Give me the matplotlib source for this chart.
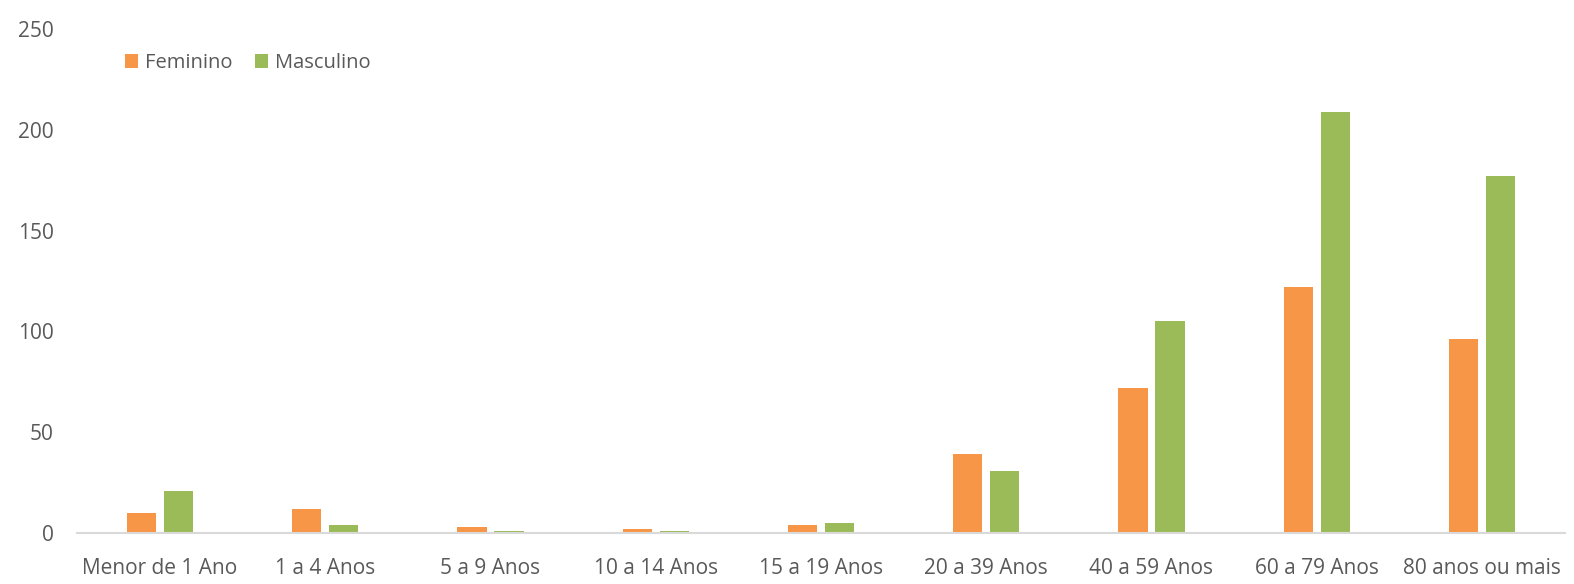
import numpy as np
import matplotlib
matplotlib.use("Agg")
import matplotlib.pyplot as plt

plt.rcParams['font.family'] = ['Open Sans', 'DejaVu Sans']

faixas = ["Menor de 1 Ano", "1 a 4 Anos", "5 a 9 Anos", "10 a 14 Anos", "15 a 19 Anos",
          "20 a 39 Anos", "40 a 59 Anos", "60 a 79 Anos", "80 anos ou mais"]
feminino = [10, 12, 3, 2, 4, 39, 72, 122, 96]
masculino = [21, 4, 1, 1, 5, 31, 105, 209, 177]
yticks = [0, 50, 100, 150, 200, 250]

cor_f = '#F79646'
cor_m = '#9BBB59'
texto = '#595959'

fig = plt.figure(figsize=(15.74, 5.84), dpi=100)
ax = fig.add_axes([0.0492, 0.0873, 0.9448, 0.8630])

x = np.arange(len(faixas))
w = 0.177
off = w / 2 + 0.023
ax.bar(x - off, feminino, w, color=cor_f, label="Feminino")
ax.bar(x + off, masculino, w, color=cor_m, label="Masculino")

ax.set_xlim(-0.5, len(faixas) - 0.5)
ax.set_ylim(0, 250)
ax.set_yticks(yticks)
ax.set_xticks(x)
ax.set_xticklabels(faixas)

for s in ['top', 'right', 'left']:
    ax.spines[s].set_visible(False)
ax.spines['bottom'].set_color('#D9D9D9')
ax.spines['bottom'].set_linewidth(1.5)

ax.tick_params(axis='both', length=0, colors=texto, labelsize=15)
ax.tick_params(axis='y', pad=17)
ax.tick_params(axis='x', pad=18)

ax.legend(loc='center left', bbox_to_anchor=(0.068, 0.892), bbox_transform=fig.transFigure,
          ncol=2, frameon=False, fontsize=14.5, labelcolor=texto,
          handlelength=0.65, handleheight=0.65, handletextpad=0.35, columnspacing=1.1)

fig.savefig('out.png', dpi=100)
